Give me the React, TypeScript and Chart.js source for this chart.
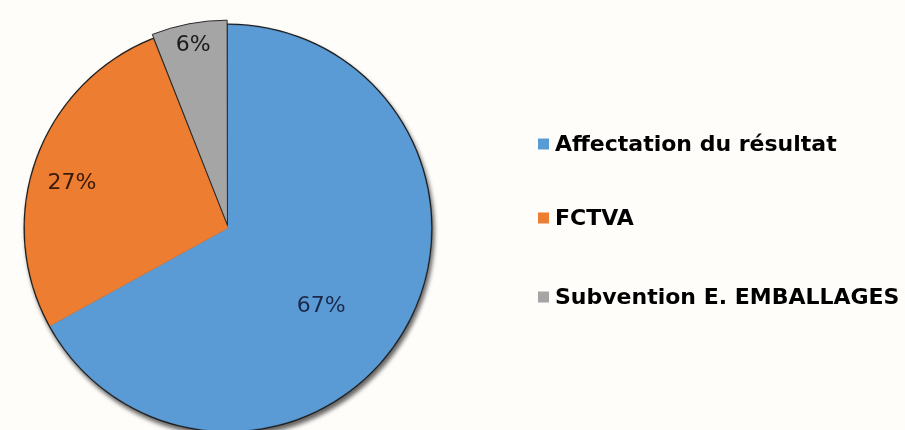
import React, { useEffect, useRef } from "react";
import { Chart, registerables } from "chart.js";

Chart.register(...registerables);

const labels = ["Affectation du résultat", "FCTVA", "Subvention E. EMBALLAGES"];
const values = [67, 27, 6];
const percentLabels = ["67%", "27%", "6%"];
const colors = ["#5B9BD5", "#ED7D31", "#A5A5A5"];
const labelColors = ["#1c2a4a", "#3a1a08", "#1a1a1a"];

const W = 905;
const H = 430;
const R = 203;

const bgPlugin = {
  id: "bg",
  beforeDraw(chart: any) {
    const ctx = chart.ctx;
    ctx.save();
    ctx.fillStyle = "#fffdfa";
    ctx.fillRect(0, 0, chart.width, chart.height);
    ctx.restore();
  },
};

const shadowPlugin = {
  id: "pieShadow",
  beforeDatasetsDraw(chart: any) {
    const meta = chart.getDatasetMeta(0);
    const arc = meta.data[0];
    if (!arc) return;
    const { x, y, outerRadius } = arc.getProps(["x", "y", "outerRadius"], true);
    const ctx = chart.ctx;
    ctx.save();
    ctx.shadowColor = "rgba(0,0,0,0.6)";
    ctx.shadowBlur = 4;
    ctx.shadowOffsetX = 2;
    ctx.shadowOffsetY = 4;
    ctx.beginPath();
    ctx.arc(x, y, outerRadius + 1.5, 0, Math.PI * 2);
    ctx.fillStyle = "#1e1e1e";
    ctx.fill();
    ctx.restore();
  },
};

// radial position (fraction of radius) and angular tweak (degrees) of each percentage label
const labelFractions = [0.6, 0.8, 0.857];
const labelAngleShift = [9.4, -3.8, 0];

const labelPlugin = {
  id: "sliceLabels",
  afterDatasetsDraw(chart: any) {
    const meta = chart.getDatasetMeta(0);
    const ctx = chart.ctx;
    ctx.save();
    ctx.font = "22px 'DejaVu Sans'";
    ctx.textAlign = "center";
    ctx.textBaseline = "middle";
    meta.data.forEach((el: any, i: number) => {
      const { x, y, startAngle, endAngle, outerRadius } = el.getProps(
        ["x", "y", "startAngle", "endAngle", "outerRadius"],
        true
      );
      const mid = (startAngle + endAngle) / 2 + (labelAngleShift[i] * Math.PI) / 180;
      const off = el.options.offset || 0;
      const r = outerRadius * labelFractions[i];
      const lx = x + Math.cos(mid) * (r + off);
      const ly = y + Math.sin(mid) * (r + off);
      ctx.fillStyle = labelColors[i];
      ctx.fillText(percentLabels[i], lx, ly);
    });
    ctx.restore();
  },
};

const legendRows = [144, 218, 297];

const legendPlugin = {
  id: "sideLegend",
  afterDraw(chart: any) {
    const ctx = chart.ctx;
    ctx.save();
    ctx.font = "bold 22px 'DejaVu Sans'";
    ctx.textBaseline = "middle";
    ctx.textAlign = "left";
    labels.forEach((lab, i) => {
      const cy = legendRows[i];
      ctx.fillStyle = colors[i];
      ctx.fillRect(538, cy - 5.5, 11, 11);
      ctx.fillStyle = "#000";
      ctx.fillText(lab, 555, cy + 1);
    });
    ctx.restore();
  },
};

export default function App() {
  const ref = useRef<HTMLCanvasElement | null>(null);

  useEffect(() => {
    if (!ref.current) return;
    const chart = new Chart(ref.current, {
      type: "pie",
      data: {
        labels,
        datasets: [
          {
            data: values,
            backgroundColor: colors,
            borderColor: ["#5B9BD5", "#ED7D31", "#2a2a2a"],
            borderWidth: [0.5, 0.5, 1],
            offset: [0, 0, 12],
            clip: false,
          } as any,
        ],
      },
      options: {
        responsive: false,
        animation: false,
        radius: R,
        layout: { padding: { left: 0, right: W - 456, top: 26, bottom: 0 } },
        plugins: {
          legend: { display: false },
          tooltip: { enabled: false },
        },
      } as any,
      plugins: [bgPlugin, shadowPlugin, labelPlugin, legendPlugin],
    });
    return () => chart.destroy();
  }, []);

  return (
    <div style={{ position: "fixed", left: 0, top: 0, width: W, height: H }}>
      <canvas ref={ref} width={W} height={H} style={{ width: W, height: H, display: "block" }} />
    </div>
  );
}
